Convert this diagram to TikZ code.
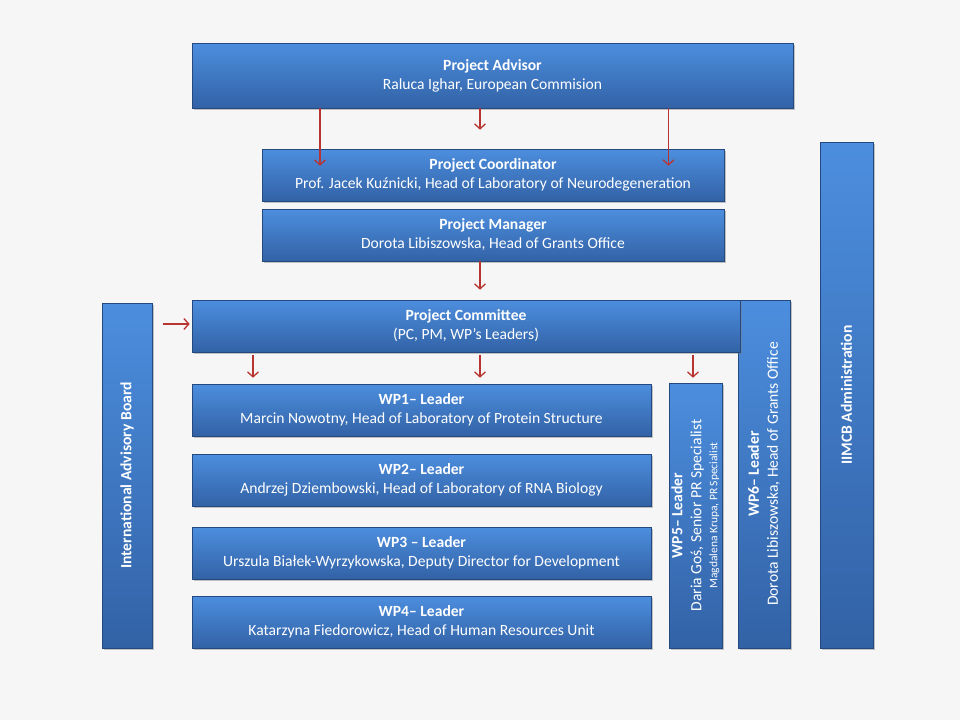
\documentclass[tikz,border=0pt]{standalone}
\usepackage{fontspec}
\setmainfont{Carlito}
\usetikzlibrary{shadows,arrows.meta}
\definecolor{boxtop}{RGB}{76,142,222}
\definecolor{boxbot}{RGB}{50,98,166}
\definecolor{boxedge}{RGB}{36,72,128}
\definecolor{arrred}{RGB}{184,52,48}
\definecolor{paper}{RGB}{246,246,246}
\tikzstyle{box} = [rectangle, draw=boxedge, line width=0.6pt,
    top color=boxtop, bottom color=boxbot, text=white, align=center,
    font=\fontsize{15.6}{19}\selectfont, inner sep=0pt,
    drop shadow={opacity=0.45, shadow xshift=1.5pt, shadow yshift=-1.5pt}]
\tikzstyle{vbox} = [box, rotate=90]
\tikzstyle{link} = [-{Straight Barb[length=5pt,width=11pt]}, draw=arrred, line width=1.3pt]

\begin{document}
\begin{tikzpicture}[x=1pt, y=-1pt]
    \fill[paper] (0,0) rectangle (960,720);

    % top of the chart
    \node (adv) [box, minimum width=601pt, minimum height=65pt] at (492.5,75.5)
        {\textbf{Project Advisor}\\Raluca Ighar, European Commision};
    \node (coord) [box, minimum width=462pt, minimum height=52pt] at (493,175)
        {\textbf{Project Coordinator}\\Prof. Jacek Kuźnicki, Head of Laboratory of Neurodegeneration};
    \node (mgr) [box, minimum width=462pt, minimum height=52pt] at (493,235)
        {\textbf{Project Manager}\\Dorota Libiszowska, Head of Grants Office};

    % side columns
    \node (iab) [vbox, minimum width=345pt, minimum height=50pt] at (127,475.5)
        {\textbf{International Advisory Board}};
    \node (wp6) [vbox, minimum width=348pt, minimum height=52pt] at (764,474)
        {\textbf{WP6-- Leader}\\Dorota Libiszowska, Head of Grants Office};
    \node (iimcb) [vbox, minimum width=506pt, minimum height=53pt] at (846.5,395)
        {\textbf{IIMCB Administration}};

    \node (comm) [box, minimum width=548pt, minimum height=52pt] at (466,326)
        {\textbf{Project Committee}\\(PC, PM, WP’s Leaders)};

    % work packages
    \node (wp1) [box, minimum width=459pt, minimum height=52pt] at (421.5,410)
        {\textbf{WP1-- Leader}\\Marcin Nowotny, Head of Laboratory of Protein Structure};
    \node (wp2) [box, minimum width=459pt, minimum height=52pt] at (421.5,480)
        {\textbf{WP2-- Leader}\\Andrzej Dziembowski, Head of Laboratory of RNA Biology};
    \node (wp3) [box, minimum width=459pt, minimum height=52pt] at (421.5,553)
        {\textbf{WP3 -- Leader}\\Urszula Białek-Wyrzykowska, Deputy Director for Development};
    \node (wp4) [box, minimum width=459pt, minimum height=52pt] at (421.5,622)
        {\textbf{WP4-- Leader}\\Katarzyna Fiedorowicz, Head of Human Resources Unit};
    \node (wp5) [vbox, minimum width=265pt, minimum height=53pt] at (695.5,515.5)
        {\textbf{WP5-- Leader}\\Daria Goś, Senior PR Specialist\\[-3pt]{\fontsize{11.5}{13}\selectfont Magdalena Krupa, PR Specialist}};

    \draw [link] ([xshift=-172.5pt]adv.south) -- ([xshift=-173pt,yshift=-17pt]coord.north);
    \draw [link] ([xshift=-12.5pt]adv.south) -- ([xshift=-13pt,yshift=19pt]coord.north);
    \draw [link] ([xshift=176pt]adv.south) -- ([xshift=175.5pt,yshift=-17pt]coord.north);
    \draw [link] ([xshift=-13pt]mgr.south) -- ([xshift=14pt,yshift=10pt]comm.north);

    \draw [link] ([xshift=11pt,yshift=2pt]iab.south |- comm.west) -- ([xshift=-2pt,yshift=2pt]comm.west);
    \draw [link] ([xshift=-213pt,yshift=-3pt]comm.south) -- ([xshift=-168.5pt,yshift=6pt]wp1.north);
    \draw [link] ([xshift=14pt,yshift=-3pt]comm.south) -- ([xshift=58.5pt,yshift=6pt]wp1.north);
    \draw [link] ([xshift=227pt,yshift=-3pt]comm.south) -- ([xshift=-2.5pt,yshift=5pt]wp5.east);
\end{tikzpicture}
\end{document}
